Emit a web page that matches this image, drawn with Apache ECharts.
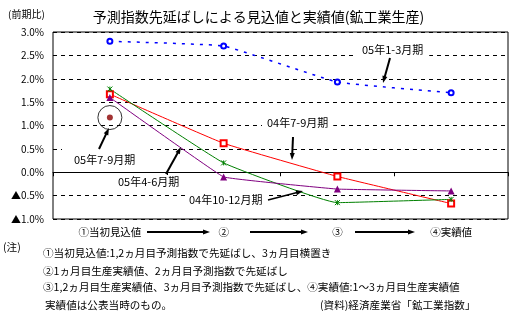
<!DOCTYPE html>
<html><head><meta charset="utf-8">
<script src="https://cdn.jsdelivr.net/npm/echarts@6/dist/echarts.min.js"></script>
<style>html,body{margin:0;padding:0;background:#fff}#c{width:517px;height:323px}</style>
</head><body><div id="c"></div>
<script>
// Stages of the estimate, from first projection to actual result
const stages = ['①当初見込値', '②', '③', '④実績値'];
// Quarter-on-quarter change (%) of industrial production per quarter
const q05_1_3  = [2.80, 2.70, 1.93, 1.70];   // 05年1-3月期
const q04_7_9  = [1.67, 0.62, -0.09, -0.67]; // 04年7-9月期
const q05_4_6  = [1.78, 0.20, -0.65, -0.58]; // 05年4-6月期
const q04_10_12 = [1.60, -0.10, -0.36, -0.40]; // 04年10-12月期
const q05_7_9  = [1.17, null, null, null];    // 05年7-9月期 (first estimate only)

const FONT = '"Noto Sans CJK JP", sans-serif';
const chart = echarts.init(document.getElementById('c'), null, {renderer: 'canvas'});

function arrow(x1, y1, x2, y2, w, head, hw) {
  const dx = x2 - x1, dy = y2 - y1, L = Math.hypot(dx, dy);
  const ux = dx / L, uy = dy / L;
  const bx = x2 - ux * head, by = y2 - uy * head;
  const px = -uy * hw, py = ux * hw;
  return [
    {type: 'line', z: 100, shape: {x1, y1, x2: bx + ux, y2: by + uy}, style: {stroke: '#000', lineWidth: w}},
    {type: 'polygon', z: 100, shape: {points: [[x2, y2], [bx + px, by + py], [bx - px, by - py]]}, style: {fill: '#000'}}
  ];
}
function label(text, x, y, pad) {
  return {type: 'text', z: 90, left: x, top: y,
    style: {text, font: '11px ' + FONT, fill: '#000', backgroundColor: '#fff', padding: pad || [2, 3]}};
}
function note(text, x, y) {
  return {type: 'text', z: 90, left: x, top: y, style: {text, font: '10.6px ' + FONT, fill: '#000'}};
}

const crossPath = 'path://M0,0L10,10M10,0L0,10M5,0L5,10';

const option = {
  backgroundColor: '#fff',
  animation: false,
  title: {
    text: '予測指数先延ばしによる見込値と実績値(鉱工業生産)',
    left: 'center', top: 5,
    textStyle: {fontFamily: FONT, fontSize: 14, fontWeight: 'normal', color: '#000'}
  },
  grid: {left: 53, right: 9, top: 32, bottom: 104, show: true, borderColor: '#000', borderWidth: 1, backgroundColor: 'transparent'},
  xAxis: [
    {
      type: 'category', data: stages, boundaryGap: true, position: 'bottom',
      axisLine: {show: false, onZero: false}, axisTick: {show: false},
      axisLabel: {margin: 8, fontFamily: FONT, fontSize: 10.5, color: '#000'}
    },
    {
      type: 'category', data: stages, boundaryGap: true,
      axisLine: {show: true, onZero: true, lineStyle: {color: '#000', width: 1}},
      axisTick: {show: true, inside: true, length: 4, lineStyle: {color: '#000'}},
      axisLabel: {show: false}
    }
  ],
  yAxis: {
    type: 'value', min: -1, max: 3, interval: 0.5,
    axisLine: {show: false}, axisTick: {show: false},
    splitLine: {show: true, lineStyle: {color: '#000', type: [4, 4], width: 1}},
    axisLabel: {
      margin: 9, fontFamily: FONT, fontSize: 10, color: '#000',
      formatter: v => (v < 0 ? '▲' + Math.abs(v).toFixed(1) : v.toFixed(1)) + '%'
    }
  },
  series: [
    {
      name: '05年1-3月期', type: 'line', data: q05_1_3, smooth: 0.1,
      symbol: 'emptyCircle', symbolSize: 5,
      lineStyle: {color: '#0000ff', width: 1.5, type: [3, 6]},
      itemStyle: {color: '#0000ff', borderColor: '#0000ff', borderWidth: 1}
    },
    {
      name: '04年7-9月期', type: 'line', data: q04_7_9, smooth: 0.1,
      symbol: 'emptyRect', symbolSize: 6,
      lineStyle: {color: '#ff0000', width: 1},
      itemStyle: {color: '#ff0000', borderColor: '#ff0000', borderWidth: 1}
    },
    {
      name: '05年4-6月期', type: 'line', data: q05_4_6, smooth: 0.1,
      symbol: crossPath, symbolSize: 5,
      lineStyle: {color: '#008000', width: 1},
      itemStyle: {color: '#008000', borderColor: '#008000', borderWidth: 1}
    },
    {
      name: '04年10-12月期', type: 'line', data: q04_10_12, smooth: 0.05,
      symbol: 'triangle', symbolSize: 7,
      lineStyle: {color: '#800080', width: 1},
      itemStyle: {color: '#800080'}
    },
    {
      name: '05年7-9月期枠', type: 'scatter', data: q05_7_9, silent: true, z: 2,
      symbol: 'circle', symbolSize: 24,
      itemStyle: {color: 'rgba(0,0,0,0)', borderColor: '#000', borderWidth: 1}
    },
    {
      name: '05年7-9月期', type: 'scatter', data: q05_7_9, z: 3,
      symbol: 'circle', symbolSize: 6, itemStyle: {color: '#8b0000'}
    }
  ],
  graphic: [
    label('05年1-3月期', 356, 42, [2, 6]),
    ...arrow(390, 58, 383, 83, 2, 7, 2.5),
    label('04年7-9月期', 262, 115, [2, 5]),
    ...arrow(293, 137, 292, 160, 2, 7, 2.5),
    label('05年7-9月期', 62, 146, [8, 15, 2, 12]),
    ...arrow(99, 149, 109, 128, 2, 7, 2.5),
    label('05年4-6月期', 115, 175, [1, 3]),
    ...arrow(166, 174, 181, 147, 2, 7, 2.5),
    label('04年10-12月期', 185, 192, [2, 4]),
    ...arrow(268, 200, 303, 191, 1.5, 7, 2.5),
    // progression arrows between the stage labels
    ...arrow(147, 232, 210, 232, 2, 7, 2.5),
    ...arrow(250, 232, 308, 232, 2, 7, 2.5),
    ...arrow(355, 232, 415, 232, 2, 7, 2.5),
    // notes and source
    note('(注)', 3, 242),
    note('①当初見込値:1,2ヵ月目予測指数で先延ばし、3ヵ月目横置き', 43, 248),
    note('②1ヵ月目生産実績値、2ヵ月目予測指数で先延ばし', 43, 266),
    note('③1,2ヵ月目生産実績値、3ヵ月目予測指数で先延ばし、④実績値:1～3ヵ月目生産実績値', 43, 282),
    note('実績値は公表当時のもの。', 45, 300),
    note('(資料)経済産業省「鉱工業指数」', 320, 300),
    {type: 'text', left: 8, top: 9, style: {text: '(前期比)', font: '10px ' + FONT, fill: '#000'}}
  ]
};
chart.setOption(option);
</script>
</body></html>
